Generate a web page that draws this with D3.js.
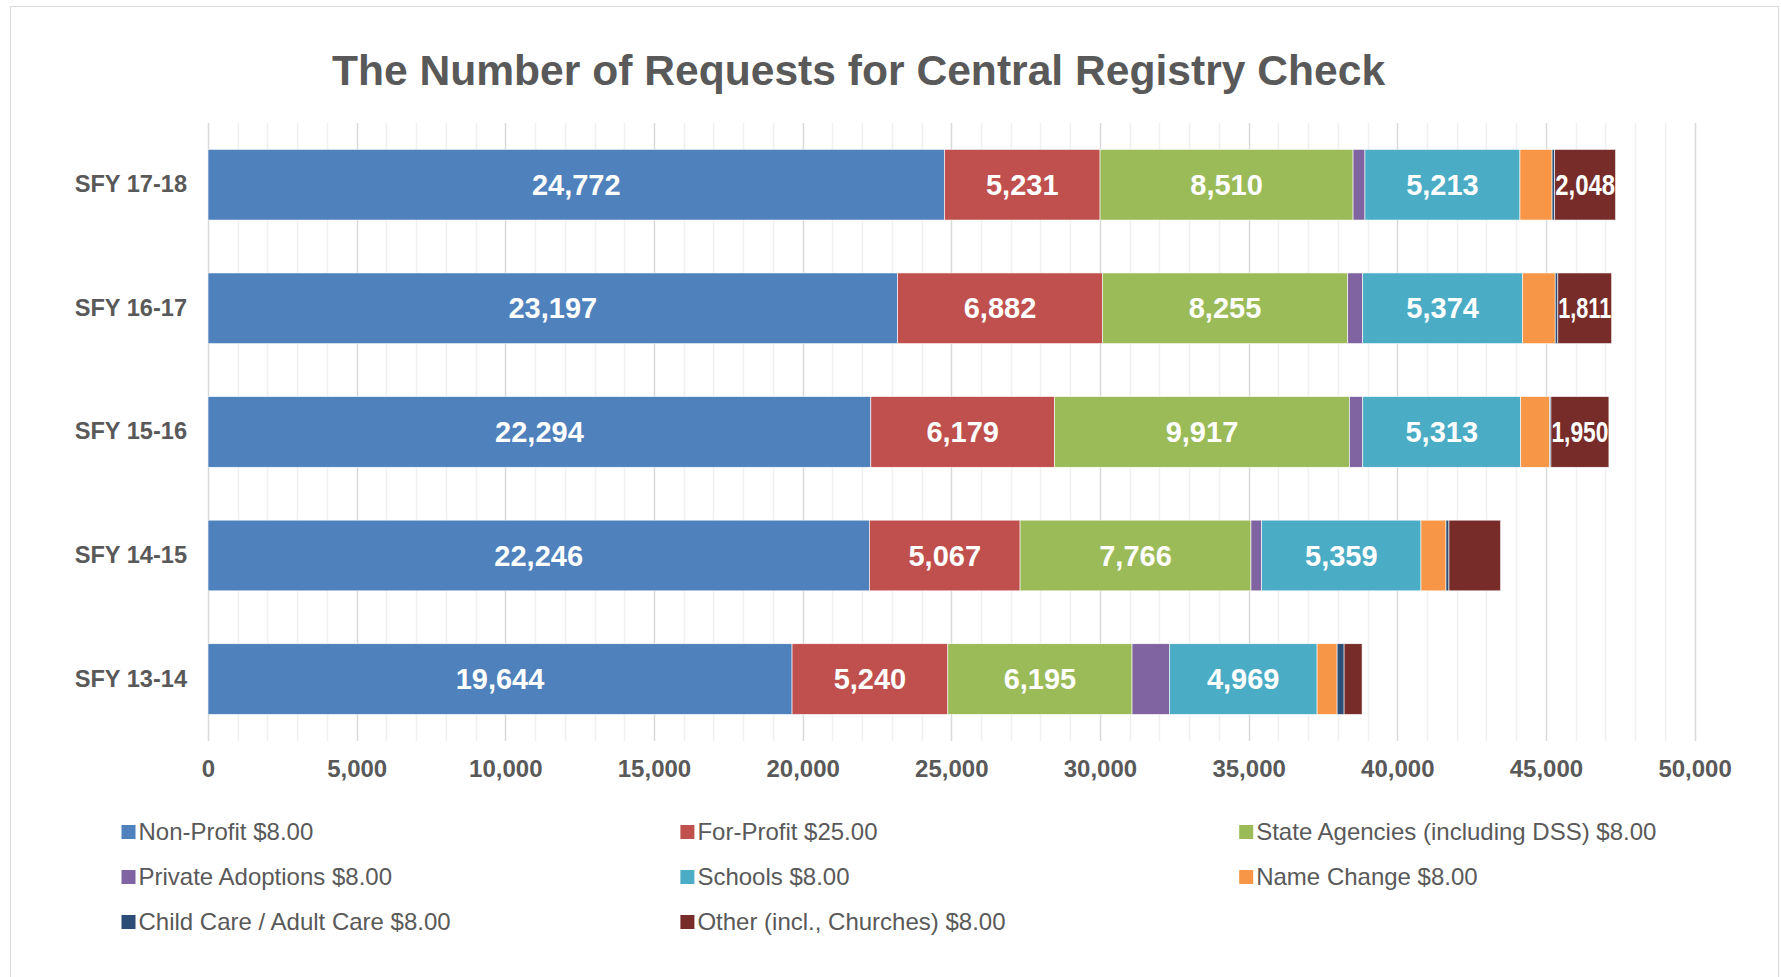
<!DOCTYPE html>
<html>
<head>
<meta charset="utf-8">
<script src="https://cdn.jsdelivr.net/npm/d3@7"></script>
<style>
  html, body { margin: 0; padding: 0; background: #fff; }
  svg { display: block; font-family: "Liberation Sans", Arial, sans-serif; }
</style>
</head>
<body>
<svg id="chart" width="1781" height="977"></svg>
<script>
// ---- Data ----
const categories = ["SFY 13-14", "SFY 14-15", "SFY 15-16", "SFY 16-17", "SFY 17-18"];
const seriesNames = [
  "Non-Profit $8.00",
  "For-Profit $25.00",
  "State Agencies (including DSS) $8.00",
  "Private Adoptions $8.00",
  "Schools $8.00",
  "Name Change $8.00",
  "Child Care / Adult Care $8.00",
  "Other (incl., Churches) $8.00"
];
const nonProfit        = [19644, 22246, 22294, 23197, 24772];
const forProfit        = [5240, 5067, 6179, 6882, 5231];
const stateAgencies    = [6195, 7766, 9917, 8255, 8510];
const privateAdoptions = [1255, 359, 450, 504, 400];
const schools          = [4969, 5359, 5313, 5374, 5213];
const nameChange       = [673, 841, 975, 1099, 1080];
const childCare        = [235, 100, 40, 90, 90];
const other            = [605, 1738, 1950, 1811, 2048];
const seriesColors = ["#4f81bd", "#c0504d", "#9bbb59", "#8064a2", "#4bacc6", "#f79646", "#2c4d75", "#772c2a"];
// which series carry data labels (by series index), and for "Other" only these years
const labelledSeries = [0, 1, 2, 4];
const otherLabelledYears = ["SFY 15-16", "SFY 16-17", "SFY 17-18"];
const xTicks = [0, 5000, 10000, 15000, 20000, 25000, 30000, 35000, 40000, 45000, 50000];
const title = "The Number of Requests for Central Registry Check";

// ---- Build table ----
const seriesValues = [nonProfit, forProfit, stateAgencies, privateAdoptions, schools, nameChange, childCare, other];
const rows = categories.map((c, i) => {
  const r = { cat: c };
  seriesNames.forEach((s, k) => { r[s] = seriesValues[k][i]; });
  return r;
});
const stack = d3.stack().keys(seriesNames)(rows);

// ---- Layout ----
const svg = d3.select("#chart");
const FONT = '"Liberation Sans", Arial, sans-serif';
const GREY = "#595959";

// outer chart border
svg.append("rect").attr("x", 10.5).attr("y", 6.5).attr("width", 1768).attr("height", 990)
  .attr("fill", "#fff").attr("stroke", "#d9d9d9").attr("stroke-width", 1);

const x = d3.scaleLinear().domain([0, 50000]).range([208, 1694.6]);
const y = d3.scaleBand().domain(categories.slice().reverse())
  .range([122.9, 740.9]).paddingInner(0.428).paddingOuter(0.214);

// title
svg.append("text").attr("x", 858.5).attr("y", 85).attr("text-anchor", "middle")
  .attr("font-size", 42.6).attr("font-weight", "bold").attr("fill", GREY).text(title);

// gridlines
const minor = d3.range(0, 50001, 1000).filter(v => v % 5000 !== 0);
svg.append("g").selectAll("line").data(minor).join("line")
  .attr("x1", d => Math.round(x(d)) + 0.5).attr("x2", d => Math.round(x(d)) + 0.5)
  .attr("y1", 122.9).attr("y2", 740.9).attr("stroke", "#f0f0f0").attr("stroke-width", 1.5);
svg.append("g").selectAll("line").data(xTicks).join("line")
  .attr("x1", d => Math.round(x(d)) + 0.5).attr("x2", d => Math.round(x(d)) + 0.5)
  .attr("y1", 122.9).attr("y2", 740.9).attr("stroke", "#d9d9d9").attr("stroke-width", 1.5);

// bars
const g = svg.append("g");
stack.forEach((layer, k) => {
  g.append("g").selectAll("rect").data(layer).join("rect")
    .attr("x", d => x(d[0]))
    .attr("y", d => y(d.data.cat))
    .attr("width", d => x(d[1]) - x(d[0]))
    .attr("height", y.bandwidth())
    .attr("fill", seriesColors[k])
    .attr("stroke", "#ffffff").attr("stroke-width", 0.6);
});

// data labels
stack.forEach((layer, k) => {
  const isOther = k === seriesNames.length - 1;
  if (!labelledSeries.includes(k) && !isOther) return;
  layer.forEach(d => {
    if (isOther && !otherLabelledYears.includes(d.data.cat)) return;
    const x0 = x(d[0]), x1 = x(d[1]);
    const t = g.append("text")
      .attr("x", (x0 + x1) / 2)
      .attr("y", y(d.data.cat) + y.bandwidth() / 2)
      .attr("dy", "0.35em")
      .attr("text-anchor", "middle")
      .attr("font-size", 29).attr("font-weight", "bold").attr("fill", "#fff")
      .text(d3.format(",")(d[1] - d[0]));
    const w = t.node().getComputedTextLength();
    const avail = x1 - x0 - 1;
    if (w > avail) t.attr("textLength", avail).attr("lengthAdjust", "spacingAndGlyphs");
  });
});

// x axis labels
const xAxis = svg.append("g").attr("transform", "translate(0,769)")
  .call(d3.axisBottom(x).tickValues(xTicks).tickFormat(d3.format(",")).tickSize(0).tickPadding(0));
xAxis.select(".domain").remove();
xAxis.selectAll("text").attr("dy", "0.35em").attr("font-size", 24).attr("font-weight", "bold")
  .attr("fill", GREY).attr("font-family", FONT);

// y axis labels
const yAxis = svg.append("g").attr("transform", "translate(187,0)")
  .call(d3.axisLeft(y).tickSize(0).tickPadding(0));
yAxis.select(".domain").remove();
yAxis.selectAll("text").attr("font-size", 23.6).attr("font-weight", "bold")
  .attr("fill", GREY).attr("font-family", FONT);

// legend
const legX = [121.5, 680.4, 1239.2];
const legY = [832, 877, 922];
const leg = svg.append("g");
seriesNames.forEach((s, i) => {
  const cx = legX[i % 3], cy = legY[Math.floor(i / 3)];
  leg.append("rect").attr("x", cx).attr("y", cy - 7).attr("width", 14).attr("height", 14)
    .attr("fill", seriesColors[i]);
  leg.append("text").attr("x", cx + 17).attr("y", cy).attr("dy", "0.35em")
    .attr("font-size", 24).attr("fill", GREY).text(s);
});
</script>
</body>
</html>
